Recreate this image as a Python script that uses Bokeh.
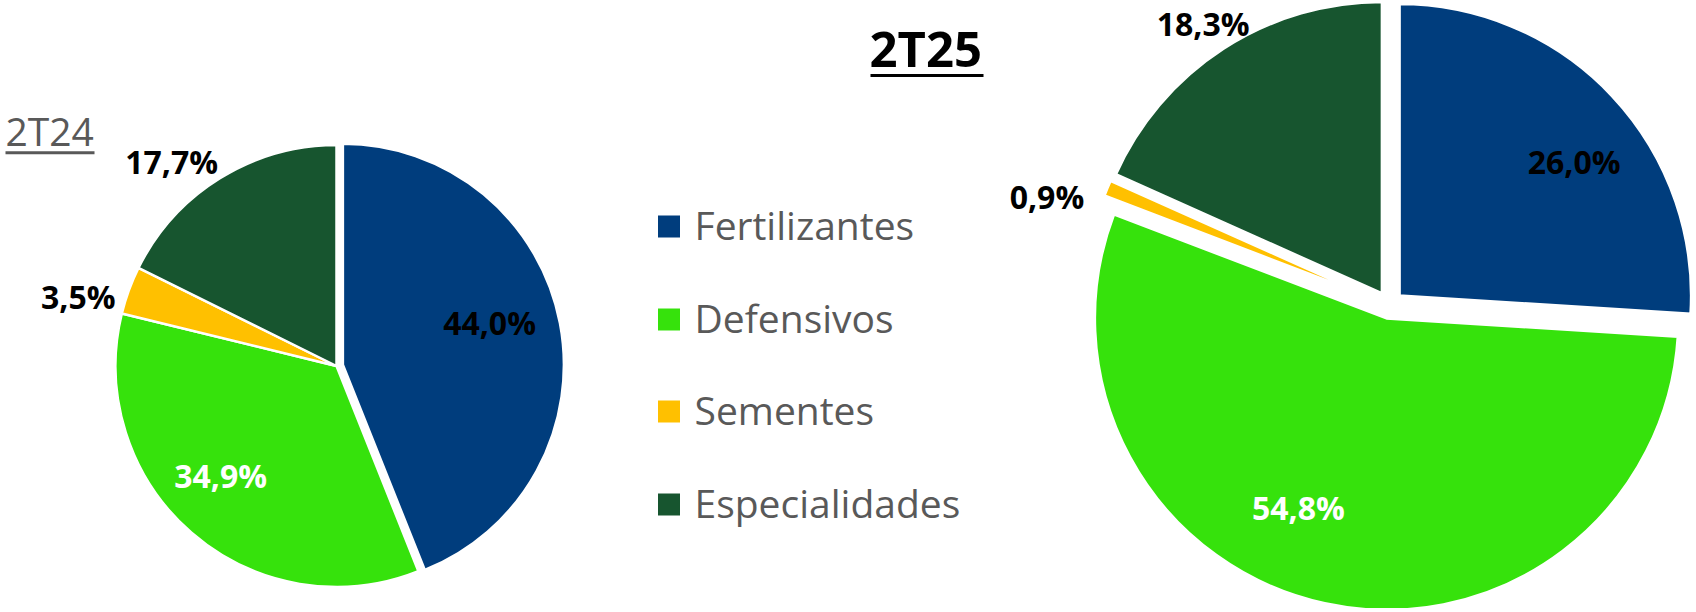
import numpy as np
from bokeh.plotting import figure
from bokeh.models import Range1d
from bokeh.core.properties import value
from bokeh.embed import file_html
from bokeh.resources import INLINE

# ---- data ----
categories = ["Fertilizantes", "Defensivos", "Sementes", "Especialidades"]
colors = ["#003D7D", "#36E20C", "#FFC000", "#17552F"]
share_2t24 = [44.0, 34.9, 3.5, 17.7]
share_2t25 = [26.0, 54.8, 0.9, 18.3]
labels_2t24 = ["44,0%", "34,9%", "3,5%", "17,7%"]
labels_2t25 = ["26,0%", "54,8%", "0,9%", "18,3%"]
label_colors = ["black", "white", "black", "black"]
titles = ["2T24", "2T25"]

W, H = 1694, 608
FONT = value("Open Sans")

p = figure(width=W, height=H, x_range=Range1d(0, W), y_range=Range1d(0, H),
           output_backend="svg", toolbar_location=None, min_border=0,
           x_axis_type=None, y_axis_type=None, outline_line_color=None)
p.grid.visible = False
p.background_fill_color = "white"
p.border_fill_color = "white"


def draw_pie(shares, labels, cx, cy, r, explode, lw, lab_r, lab_off, fs):
    fr = np.array(shares) / sum(shares)
    ends = np.cumsum(fr) * 360.0
    starts = ends - fr * 360.0
    mids = (starts + ends) / 2.0
    mrad = np.radians(mids)
    ex = np.array(explode)
    xs = cx + ex * np.sin(mrad)
    ys = cy + ex * np.cos(mrad)
    p.wedge(x=xs, y=ys, radius=r, radius_units="screen",
            start_angle=np.radians(90 - starts), end_angle=np.radians(90 - ends),
            direction="clock", fill_color=colors, line_color="white", line_width=lw)
    la = np.radians(mids + np.array(lab_off))
    lr = np.array(lab_r) * r
    p.text(x=cx + lr * np.sin(la), y=cy + lr * np.cos(la), text=labels,
           text_color=label_colors, text_font=FONT, text_font_size=fs,
           text_font_style="bold", text_align="center", text_baseline="middle")


# left pie (2T24)
draw_pie(share_2t24, labels_2t24, 336, 242.5, 221, [6.5, 0, 0, 0], 2.5,
         [0.72, 0.72, 1.21, 1.19], [-5, 5.7, -5, -7], "32px")
# right pie (2T25)
draw_pie(share_2t25, labels_2t25, 1389, 303.5, 292, [13.5, 13.5, 13.5, 13.5], 3,
         [0.80, 0.76, 1.23, 1.155], [5.4, 12, -5, -0.6], "32px")

# legend
leg_y = [382, 289, 197, 104]
p.scatter(x=[668.5] * 4, y=leg_y, marker="square", size=22, fill_color=colors,
          line_color=None)
p.text(x=[694] * 4, y=[v + 2 for v in leg_y], text=categories, text_color="#595959",
       text_font=FONT, text_font_size="39px", text_baseline="middle", text_align="left")

# titles
p.text(x=[5], y=[478], text=[titles[0]], text_color="#595959", text_font=FONT,
       text_font_size="39px", text_baseline="middle")
p.segment(x0=[5], y0=[455.7], x1=[94], y1=[455.7], line_color="#595959", line_width=3)
p.text(x=[869], y=[561], text=[titles[1]], text_color="black", text_font=FONT,
       text_font_size="49px", text_font_style="bold", text_baseline="middle")
p.segment(x0=[870], y0=[533], x1=[983], y1=[533], line_color="black", line_width=3)

open("out.html", "w").write(file_html(p, INLINE))
